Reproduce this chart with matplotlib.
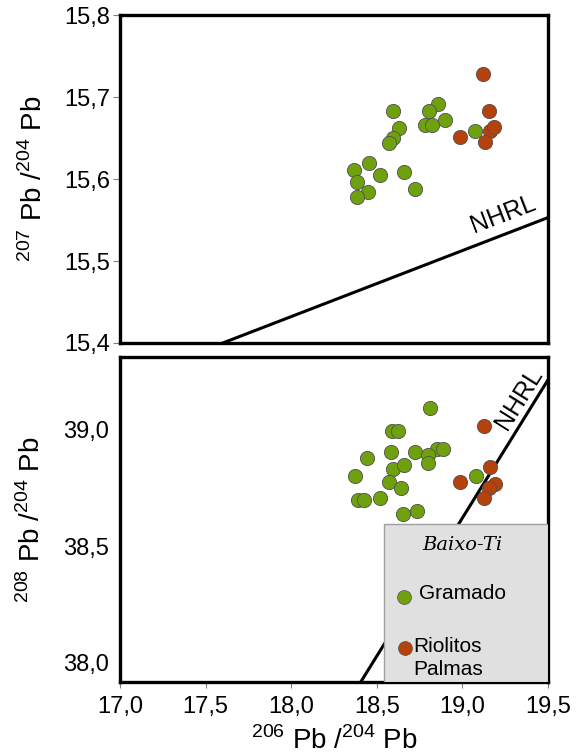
import numpy as np
import matplotlib.pyplot as plt

plt.rcParams['font.family'] = ['Liberation Sans', 'DejaVu Sans']
plt.rcParams['mathtext.fontset'] = 'custom'
plt.rcParams['mathtext.rm'] = 'Liberation Sans'

# Datos
gram_206 = [18.593, 18.856, 18.807, 18.897, 18.782, 18.821, 18.631, 18.596, 18.570,
            19.074, 18.454, 18.367, 18.519, 18.659, 18.383, 18.450, 18.386, 18.725]
gram_207 = [15.683, 15.692, 15.683, 15.672, 15.666, 15.666, 15.662, 15.650, 15.644,
            15.658, 15.619, 15.611, 15.605, 15.609, 15.596, 15.584, 15.578, 15.588]

rio_206 = [19.122, 19.157, 18.986, 19.161, 19.186, 19.134]
rio_207 = [15.728, 15.683, 15.651, 15.658, 15.663, 15.645]

gram_206b = [18.812, 18.591, 18.626, 18.441, 18.581, 18.725, 18.853, 18.888, 18.801,
             18.801, 18.596, 18.659, 18.373, 18.573, 18.640, 19.078, 18.388, 18.425,
             18.519, 18.655, 18.733]
gram_208 = [39.094, 38.997, 38.997, 38.880, 38.906, 38.906, 38.920, 38.920, 38.891,
            38.860, 38.831, 38.848, 38.800, 38.777, 38.751, 38.800, 38.700, 38.700,
            38.707, 38.639, 38.654]

rio_206b = [19.126, 19.159, 18.986, 19.189, 19.157, 19.124]
rio_208 = [39.017, 38.842, 38.777, 38.767, 38.752, 38.709]

# NHRL (extremos de la recta)
nhrl_x_top = [17.60, 19.50]
nhrl_y_top = [15.40, 15.553]
nhrl_x_bot = [18.406, 19.50]
nhrl_y_bot = [37.918, 39.215]

xticks = [17.0, 17.5, 18.0, 18.5, 19.0, 19.5]
xtick_labels = ['17,0', '17,5', '18,0', '18,5', '19,0', '19,5']
yticks_top = [15.4, 15.5, 15.6, 15.7, 15.8]
ytick_labels_top = ['15,4', '15,5', '15,6', '15,7', '15,8']
yticks_bot = [38.0, 38.5, 39.0]
ytick_labels_bot = ['38,0', '38,5', '39,0']

verde = '#6fa10e'
rojo = '#b5410b'
borde = '#505050'

fig = plt.figure(figsize=(5.77, 7.55), dpi=100)
ax1 = fig.add_axes([0.208, 0.5457, 0.7418, 0.4344])
ax2 = fig.add_axes([0.208, 0.0967, 0.7418, 0.4305])

for ax in (ax1, ax2):
    for s in ax.spines.values():
        s.set_linewidth(2.4)
        s.set_color('black')
    ax.set_xlim(17.0, 19.5)
    ax.set_xticks(xticks)
    ax.tick_params(axis='both', direction='out', length=5, width=0.8, color='#808080',
                   labelsize=17, pad=2)

# Panel superior
ax1.plot(nhrl_x_top, nhrl_y_top, color='black', lw=2.2, zorder=2)
ax1.scatter(gram_206, gram_207, s=105, c=verde, edgecolors=borde, linewidths=0.6, zorder=3)
ax1.scatter(rio_206, rio_207, s=105, c=rojo, edgecolors=borde, linewidths=0.6, zorder=3)
ax1.set_ylim(15.4, 15.8)
ax1.set_yticks(yticks_top)
ax1.set_yticklabels(ytick_labels_top)
ax1.set_xticklabels([])
ax1.tick_params(axis='x', length=0)
ax1.text(19.24, 15.557, 'NHRL', fontsize=18, rotation=21, ha='center', va='center')
ax1.set_ylabel(r'$^{207}$ Pb /$^{204}$ Pb', fontsize=20, labelpad=12)

# Panel inferior
ax2.plot(nhrl_x_bot, nhrl_y_bot, color='black', lw=2.2, zorder=2)
ax2.scatter(gram_206b, gram_208, s=105, c=verde, edgecolors=borde, linewidths=0.6, zorder=3)
ax2.scatter(rio_206b, rio_208, s=105, c=rojo, edgecolors=borde, linewidths=0.6, zorder=3)
ax2.set_ylim(37.918, 39.313)
ax2.set_yticks(yticks_bot)
ax2.set_yticklabels(ytick_labels_bot)
ax2.set_xticklabels(xtick_labels)
ax2.tick_params(axis='y', length=0, pad=8)
ax2.tick_params(axis='x', length=4, pad=6)
ax2.text(19.33, 39.135, 'NHRL', fontsize=18, rotation=58, ha='center', va='center')
ax2.set_ylabel(r'$^{208}$ Pb /$^{204}$ Pb', fontsize=20, labelpad=12)
ax2.set_xlabel(r'$^{206}$ Pb /$^{204}$ Pb', fontsize=20, labelpad=6)

# Leyenda (caja gris)
caja = plt.Rectangle((0.6157, 0.0), 0.3843, 0.4862, transform=ax2.transAxes,
                     facecolor='#e0e0e0', edgecolor='#a0a0a0', lw=1.0, zorder=4)
ax2.add_patch(caja)
ax2.text(0.80, 0.422, 'Baixo-Ti', transform=ax2.transAxes, fontsize=14,
         family='DejaVu Serif', style='italic', ha='center', va='center', zorder=5)
ax2.scatter([0.6628], [0.2612], s=100, c=verde, edgecolors=borde, linewidths=0.5,
            transform=ax2.transAxes, zorder=5, clip_on=False)
ax2.text(0.698, 0.271, 'Gramado', transform=ax2.transAxes, fontsize=15,
         ha='left', va='center', zorder=5)
ax2.scatter([0.6668], [0.1058], s=100, c=rojo, edgecolors=borde, linewidths=0.5,
            transform=ax2.transAxes, zorder=5, clip_on=False)
ax2.text(0.686, 0.108, 'Riolitos', transform=ax2.transAxes, fontsize=15,
         ha='left', va='center', zorder=5)
ax2.text(0.686, 0.037, 'Palmas', transform=ax2.transAxes, fontsize=15,
         ha='left', va='center', zorder=5)

fig.savefig('out.png', dpi=100)
